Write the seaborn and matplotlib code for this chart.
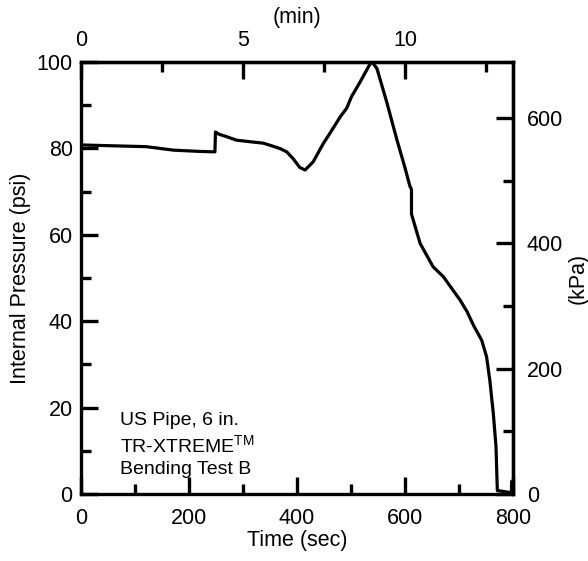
import matplotlib
matplotlib.use("Agg")
import matplotlib.pyplot as plt
import seaborn as sns
import pandas as pd
from matplotlib.ticker import MultipleLocator, FixedLocator

# Data
time_sec = [0, 60, 121, 171, 220, 248, 249, 255, 270, 288, 338, 368, 381, 393,
            405, 415, 430, 449, 461, 480, 492, 501, 517, 535, 539, 548, 566,
            585, 600, 609, 612, 612, 628, 652, 671, 702, 715, 727, 742, 751,
            757, 763.5, 768.5, 771, 797, 797.5]
pressure_psi = [80.8, 80.6, 80.4, 79.6, 79.3, 79.2, 83.8, 83.3, 82.7, 81.9,
                81.2, 80.0, 79.2, 77.6, 75.6, 75.0, 76.9, 81.2, 83.5, 87.3,
                89.3, 92.0, 95.4, 99.5, 100.0, 98.5, 90.8, 82.0, 75.5, 71.3,
                70.5, 64.8, 58.0, 52.6, 50.3, 44.9, 42.2, 39.0, 35.6, 31.8,
                26.4, 18.7, 11.0, 0.8, 0.3, 2.9]
annotation_lines = ["US Pipe, 6 in.", r"TR-XTREME$^{\mathregular{TM}}$", "Bending Test B"]

PSI_TO_KPA = 6.89476

sns.set_theme(style="white")
plt.rcParams['font.family'] = ['Liberation Sans', 'DejaVu Sans']
plt.rcParams['mathtext.fontset'] = 'custom'
plt.rcParams['mathtext.rm'] = 'Liberation Sans'
plt.rcParams['text.color'] = 'black'
plt.rcParams['axes.labelcolor'] = 'black'
plt.rcParams['xtick.color'] = 'black'
plt.rcParams['ytick.color'] = 'black'

df = pd.DataFrame({"t": time_sec, "p": pressure_psi})

fig = plt.figure(figsize=(5.88, 5.61), dpi=100)
ax = fig.add_axes([81/588, 1-494/561, 432/588, 432/561])

sns.lineplot(data=df, x="t", y="p", sort=False, estimator=None,
             color="black", linewidth=2.3, ax=ax)

ax.set_xlim(0, 800)
ax.set_ylim(0, 100)
fs = 15.5
ax.set_xlabel("Time (sec)", fontsize=fs, labelpad=1, color="black")
ax.set_ylabel("Internal Pressure (psi)", fontsize=fs, labelpad=4, color="black")

for s in ax.spines.values():
    s.set_linewidth(2.4)
    s.set_color("black")
    s.set_visible(True)

ax.xaxis.set_major_locator(MultipleLocator(200))
ax.xaxis.set_minor_locator(MultipleLocator(100))
ax.yaxis.set_major_locator(MultipleLocator(20))
ax.yaxis.set_minor_locator(MultipleLocator(10))
ax.tick_params(axis="both", which="major", direction="in", length=12, width=2.4,
               labelsize=fs, colors="black", bottom=True, left=True,
               top=False, right=False)
ax.tick_params(axis="x", which="major", pad=10)
ax.tick_params(axis="y", which="major", pad=6)
ax.tick_params(axis="both", which="minor", direction="in", length=7, width=2.4,
               bottom=True, left=True, top=False, right=False)

# Top axis in minutes
secx = ax.secondary_xaxis("top", functions=(lambda x: x/60.0, lambda m: m*60.0))
secx.xaxis.set_major_locator(FixedLocator([0, 5, 10]))
secx.xaxis.set_minor_locator(FixedLocator([2.5, 7.5, 12.5]))
secx.tick_params(which="major", direction="in", length=12, width=2.4, labelsize=fs,
                 pad=8, colors="black")
secx.tick_params(which="minor", direction="in", length=7, width=2.4, colors="black")
secx.set_xlabel("(min)", fontsize=fs, labelpad=5, color="black")
secx.spines["top"].set_linewidth(2.4)

# Right axis in kPa
secy = ax.secondary_yaxis("right", functions=(lambda p: p*PSI_TO_KPA, lambda k: k/PSI_TO_KPA))
secy.yaxis.set_major_locator(FixedLocator([0, 200, 400, 600]))
secy.yaxis.set_minor_locator(FixedLocator([100, 300, 500]))
secy.tick_params(which="major", direction="in", length=12, width=2.4, labelsize=fs,
                 pad=10, colors="black")
secy.tick_params(which="minor", direction="in", length=7, width=2.4, colors="black")
secy.set_ylabel("(kPa)", fontsize=fs, labelpad=3, color="black")
secy.spines["right"].set_linewidth(2.4)

ann_fs = 14
ys = [0.169, 0.111, 0.056]
for line, yy in zip(annotation_lines, ys):
    ax.text(0.09, yy, line, transform=ax.transAxes,
            fontsize=ann_fs, va="center", ha="left", color="black")

fig.savefig("out.png", dpi=100)
